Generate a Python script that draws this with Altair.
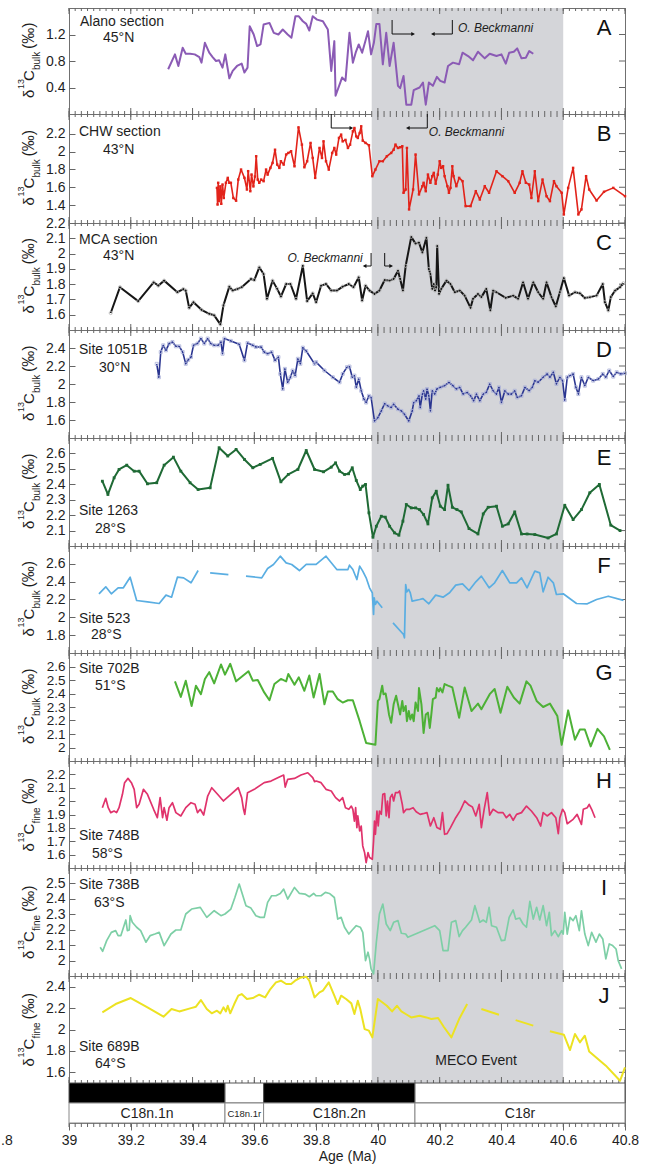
import altair as alt
import pandas as pd

FONT = "Liberation Sans"
SHADE = "#d4d5d9"
FRAME = "#707070"
TICK = "#666666"
TXT = "#1e1e1e"
W = 556
X_DOMAIN = [39.0, 40.8]
MECO_START, MECO_END = 39.98, 40.6

# ---------------- data: (age Ma, d13C permil) ----------------
ALANO = [(39.321,0.675),(39.343,0.90),(39.354,0.725),(39.368,1.00),(39.378,0.91),(39.392,0.91),(39.407,0.90),(39.422,0.86),(39.429,0.775),(39.44,1.075),(39.454,0.925),(39.465,0.86),(39.476,0.80),(39.486,0.81),(39.497,0.70),(39.506,0.90),(39.519,0.54),(39.53,0.65),(39.544,0.725),(39.559,0.76),(39.568,0.625),(39.578,0.70),(39.585,1.325),(39.598,1.20),(39.609,1.025),(39.62,1.05),(39.63,1.35),(39.649,1.375),(39.663,1.225),(39.678,1.20),(39.692,1.275),(39.708,1.20),(39.72,1.15),(39.733,1.475),(39.744,1.475),(39.757,1.40),(39.768,1.36),(39.778,1.26),(39.789,1.475),(39.803,1.425),(39.822,1.40),(39.838,1.275),(39.849,0.65),(39.859,1.10),(39.863,0.275),(39.884,0.55),(39.895,0.50),(39.908,1.225),(39.919,0.775),(39.928,0.925),(39.938,1.05),(39.949,0.925),(39.96,1.11),(39.968,1.25),(39.978,0.90),(39.987,1.075),(39.995,1.36),(40.005,1.36),(40.016,0.75),(40.027,1.225),(40.038,0.725),(40.051,1.075),(40.065,0.425),(40.072,0.39),(40.083,0.575),(40.092,0.14),(40.108,0.14),(40.116,0.36),(40.135,0.40),(40.146,0.475),(40.155,0.14),(40.165,0.475),(40.178,0.425),(40.191,0.56),(40.202,0.50),(40.216,0.475),(40.227,0.725),(40.243,0.775),(40.263,0.75),(40.274,0.925),(40.292,0.875),(40.308,0.81),(40.324,0.94),(40.346,0.84),(40.362,0.91),(40.384,0.875),(40.40,0.90),(40.414,0.76),(40.425,0.925),(40.44,0.94),(40.451,0.99),(40.465,0.84),(40.479,0.85),(40.49,0.95),(40.503,0.91)]

CHW = [(39.479,1.593),(39.481,1.407),(39.483,1.65),(39.486,1.445),(39.49,1.61),(39.493,1.415),(39.497,1.63),(39.501,1.48),(39.508,1.65),(39.514,1.705),(39.519,1.65),(39.524,1.65),(39.532,1.48),(39.541,1.45),(39.548,1.686),(39.557,1.798),(39.568,1.705),(39.576,1.575),(39.58,1.78),(39.587,1.556),(39.591,1.742),(39.597,1.61),(39.602,1.72),(39.606,1.947),(39.611,1.686),(39.616,1.65),(39.622,1.686),(39.63,1.668),(39.638,1.798),(39.643,1.742),(39.652,1.817),(39.659,1.873),(39.667,2.02),(39.674,1.854),(39.681,1.817),(39.686,1.891),(39.695,1.854),(39.703,1.966),(39.71,1.984),(39.719,2.003),(39.73,1.835),(39.743,2.27),(39.754,2.077),(39.762,1.824),(39.771,1.891),(39.782,2.096),(39.789,1.928),(39.797,1.705),(39.811,2.04),(39.819,1.928),(39.824,2.114),(39.832,1.891),(39.841,1.798),(39.852,1.984),(39.859,2.04),(39.865,1.966),(39.874,2.152),(39.881,2.189),(39.886,2.114),(39.895,2.13),(39.903,2.04),(39.91,2.077),(39.919,2.226),(39.924,2.263),(39.93,2.17),(39.935,2.152),(39.941,2.207),(39.946,2.282),(39.951,2.122),(39.96,2.096),(39.971,2.07),(39.982,1.724),(39.992,1.798),(40.005,1.891),(40.016,1.891),(40.029,1.947),(40.043,1.984),(40.051,2.02),(40.057,2.077),(40.065,2.04),(40.072,2.048),(40.079,2.059),(40.083,1.538),(40.09,1.575),(40.094,2.04),(40.101,1.352),(40.114,1.575),(40.122,1.966),(40.133,1.52),(40.144,1.612),(40.148,1.65),(40.155,1.556),(40.162,1.742),(40.17,1.65),(40.176,1.724),(40.181,1.761),(40.187,1.64),(40.194,1.742),(40.2,1.891),(40.205,1.817),(40.211,1.835),(40.216,1.724),(40.225,1.612),(40.23,1.538),(40.235,1.593),(40.241,1.835),(40.245,1.724),(40.254,1.612),(40.263,1.705),(40.274,1.668),(40.284,1.389),(40.3,1.389),(40.317,1.556),(40.33,1.463),(40.346,1.612),(40.36,1.538),(40.384,1.779),(40.403,1.724),(40.422,1.668),(40.443,1.538),(40.459,1.65),(40.468,1.779),(40.479,1.65),(40.49,1.63),(40.497,1.48),(40.508,1.779),(40.519,1.445),(40.533,1.686),(40.546,1.5),(40.557,1.445),(40.57,1.668),(40.578,1.612),(40.595,1.538),(40.602,1.296),(40.616,1.593),(40.632,1.817),(40.649,1.296),(40.659,1.352),(40.674,1.724),(40.684,1.575),(40.708,1.452),(40.732,1.549),(40.762,1.593),(40.8,1.5)]

MCA = [(39.135,1.611),(39.165,1.78),(39.224,1.689),(39.274,1.812),(39.289,1.79),(39.308,1.823),(39.351,1.747),(39.37,1.768),(39.378,1.758),(39.389,1.645),(39.403,1.682),(39.429,1.632),(39.454,1.606),(39.47,1.596),(39.49,1.537),(39.5,1.661),(39.519,1.784),(39.53,1.758),(39.546,1.769),(39.559,1.78),(39.589,1.834),(39.6,1.827),(39.616,1.91),(39.63,1.866),(39.641,1.704),(39.659,1.823),(39.674,1.769),(39.686,1.719),(39.703,1.801),(39.717,1.801),(39.735,1.704),(39.757,1.92),(39.771,1.689),(39.789,1.74),(39.8,1.682),(39.816,1.79),(39.832,1.801),(39.849,1.758),(39.867,1.758),(39.886,1.784),(39.906,1.801),(39.921,1.78),(39.938,1.845),(39.949,1.693),(39.96,1.79),(39.973,1.758),(39.989,1.736),(40.005,1.758),(40.022,1.827),(40.038,1.823),(40.051,1.834),(40.065,1.888),(40.072,1.834),(40.081,1.758),(40.09,1.92),(40.108,2.109),(40.122,2.065),(40.133,2.072),(40.144,2.007),(40.157,2.104),(40.165,1.899),(40.17,1.866),(40.176,1.769),(40.181,1.801),(40.185,1.758),(40.189,1.78),(40.192,2.05),(40.198,1.736),(40.205,1.769),(40.222,1.823),(40.235,1.801),(40.249,1.747),(40.265,1.758),(40.281,1.725),(40.3,1.645),(40.308,1.704),(40.324,1.736),(40.335,1.715),(40.351,1.769),(40.364,1.628),(40.373,1.758),(40.384,1.747),(40.414,1.71),(40.438,1.725),(40.454,1.704),(40.47,1.812),(40.486,1.704),(40.503,1.812),(40.519,1.747),(40.535,1.704),(40.546,1.812),(40.562,1.715),(40.576,1.654),(40.589,1.747),(40.602,1.84),(40.619,1.725),(40.638,1.747),(40.654,1.74),(40.67,1.71),(40.686,1.715),(40.708,1.725),(40.728,1.801),(40.735,1.682),(40.746,1.628),(40.754,1.715),(40.768,1.758),(40.784,1.78),(40.795,1.806)]

S1051B = [(39.284,2.224),(39.291,2.075),(39.297,2.355),(39.305,2.43),(39.314,2.374),(39.324,2.449),(39.335,2.467),(39.346,2.419),(39.357,2.419),(39.368,2.355),(39.378,2.224),(39.386,2.269),(39.395,2.299),(39.403,2.43),(39.416,2.449),(39.427,2.505),(39.438,2.449),(39.449,2.505),(39.459,2.449),(39.47,2.43),(39.483,2.43),(39.492,2.467),(39.497,2.336),(39.503,2.505),(39.524,2.479),(39.551,2.441),(39.568,2.262),(39.578,2.456),(39.595,2.43),(39.605,2.411),(39.622,2.411),(39.632,2.355),(39.643,2.336),(39.656,2.355),(39.667,2.262),(39.678,2.299),(39.684,2.112),(39.692,1.944),(39.699,2.168),(39.708,2.019),(39.717,2.075),(39.724,2.15),(39.732,2.093),(39.741,2.28),(39.749,2.224),(39.757,2.404),(39.768,2.366),(39.795,2.224),(39.8,2.243),(39.827,2.15),(39.854,2.075),(39.876,2.019),(39.886,2.112),(39.9,2.187),(39.908,2.194),(39.917,2.075),(39.924,2.093),(39.93,1.963),(39.938,2.056),(39.946,1.925),(39.955,1.832),(39.962,1.794),(39.971,1.869),(39.978,1.85),(39.989,1.589),(40.0,1.626),(40.011,1.701),(40.022,1.783),(40.032,1.757),(40.043,1.738),(40.051,1.776),(40.065,1.72),(40.076,1.701),(40.086,1.664),(40.1,1.589),(40.111,1.701),(40.116,1.794),(40.124,1.813),(40.133,1.869),(40.137,1.738),(40.144,1.888),(40.148,1.925),(40.155,1.832),(40.159,1.944),(40.165,1.869),(40.17,1.701),(40.176,1.925),(40.184,1.888),(40.191,1.944),(40.202,1.963),(40.216,1.981),(40.23,2.019),(40.243,1.981),(40.254,1.944),(40.265,1.963),(40.276,1.888),(40.289,1.907),(40.3,1.869),(40.31,1.813),(40.319,1.888),(40.33,1.813),(40.341,1.888),(40.351,1.907),(40.362,2.0),(40.373,1.925),(40.384,1.888),(40.392,1.963),(40.4,1.794),(40.411,1.925),(40.422,1.888),(40.432,1.888),(40.443,1.925),(40.451,1.85),(40.465,1.869),(40.476,1.963),(40.49,1.925),(40.5,1.963),(40.508,2.037),(40.519,2.019),(40.535,2.075),(40.548,2.112),(40.557,2.075),(40.568,2.131),(40.578,2.0),(40.589,2.075),(40.598,2.037),(40.605,1.821),(40.613,2.075),(40.622,2.093),(40.632,2.112),(40.641,1.963),(40.649,1.888),(40.659,2.075),(40.67,1.981),(40.681,2.075),(40.697,2.037),(40.714,2.056),(40.728,2.112),(40.738,2.075),(40.749,2.15),(40.762,2.082),(40.773,2.131),(40.786,2.112),(40.8,2.119)]

S1263 = [(39.108,2.42),(39.126,2.334),(39.146,2.442),(39.162,2.496),(39.187,2.524),(39.211,2.485),(39.227,2.485),(39.254,2.403),(39.284,2.41),(39.308,2.524),(39.338,2.576),(39.362,2.485),(39.392,2.41),(39.418,2.366),(39.457,2.377),(39.486,2.637),(39.514,2.583),(39.541,2.626),(39.568,2.561),(39.595,2.507),(39.619,2.529),(39.659,2.568),(39.686,2.416),(39.71,2.464),(39.741,2.496),(39.768,2.619),(39.795,2.496),(39.824,2.481),(39.849,2.511),(39.863,2.539),(39.876,2.485),(39.892,2.464),(39.905,2.468),(39.917,2.507),(39.93,2.425),(39.943,2.366),(39.951,2.388),(39.96,2.399),(39.971,2.215),(39.984,2.057),(39.995,2.128),(40.011,2.193),(40.024,2.187),(40.038,2.128),(40.054,2.085),(40.068,2.07),(40.081,2.161),(40.092,2.269),(40.108,2.247),(40.122,2.247),(40.135,2.236),(40.148,2.204),(40.162,2.143),(40.176,2.312),(40.189,2.355),(40.202,2.258),(40.216,2.236),(40.227,2.394),(40.241,2.251),(40.256,2.236),(40.27,2.221),(40.295,2.113),(40.324,2.078),(40.341,2.208),(40.357,2.251),(40.384,2.258),(40.403,2.128),(40.422,2.143),(40.443,2.221),(40.465,2.078),(40.483,2.078),(40.508,2.074),(40.551,2.052),(40.578,2.078),(40.605,2.264),(40.632,2.171),(40.659,2.236),(40.686,2.345),(40.717,2.399),(40.754,2.135),(40.784,2.1)]

S523_1 = [(39.097,2.264),(39.119,2.342),(39.137,2.264),(39.159,2.331),(39.176,2.331),(39.198,2.45),(39.219,2.189),(39.254,2.174),(39.292,2.155),(39.314,2.249),(39.332,2.226),(39.351,2.45),(39.371,2.443),(39.395,2.387),(39.418,2.525)]
S523_2 = [(39.457,2.499),(39.516,2.48)]
S523_3 = [(39.573,2.462),(39.624,2.443),(39.643,2.548),(39.662,2.593),(39.684,2.686),(39.703,2.611),(39.721,2.593),(39.746,2.525),(39.768,2.593),(39.8,2.593),(39.832,2.686),(39.867,2.536),(39.903,2.536),(39.908,2.585),(39.919,2.536),(39.932,2.424),(39.941,2.574),(39.951,2.518),(39.962,2.443),(39.973,2.331),(39.982,2.275),(39.986,2.032),(39.988,2.219),(39.992,2.144),(39.997,2.181),(40.014,2.107)]
S523_4 = [(40.049,1.938),(40.083,1.807),(40.086,1.77),(40.09,2.368),(40.094,2.286),(40.1,2.312),(40.105,2.275),(40.111,2.181),(40.135,2.2),(40.146,2.21),(40.165,2.152),(40.187,2.249),(40.211,2.226),(40.232,2.275),(40.252,2.361),(40.274,2.376),(40.295,2.301),(40.317,2.398),(40.335,2.462),(40.36,2.331),(40.378,2.387),(40.403,2.525),(40.427,2.387),(40.449,2.387),(40.465,2.443),(40.483,2.331),(40.508,2.518),(40.524,2.499),(40.535,2.286),(40.551,2.45),(40.568,2.387),(40.578,2.256),(40.6,2.264),(40.643,2.155),(40.678,2.152),(40.708,2.2),(40.746,2.237),(40.795,2.19)]

S702B = [(39.343,2.49),(39.362,2.375),(39.378,2.495),(39.397,2.308),(39.411,2.458),(39.427,2.395),(39.44,2.508),(39.454,2.558),(39.47,2.475),(39.492,2.615),(39.505,2.54),(39.522,2.62),(39.541,2.49),(39.581,2.565),(39.595,2.495),(39.611,2.5),(39.632,2.408),(39.649,2.35),(39.665,2.47),(39.686,2.508),(39.703,2.49),(39.71,2.545),(39.73,2.465),(39.744,2.52),(39.762,2.42),(39.778,2.533),(39.792,2.37),(39.811,2.545),(39.827,2.32),(39.838,2.415),(39.854,2.415),(39.87,2.358),(39.886,2.333),(39.903,2.35),(39.919,2.35),(39.941,2.195),(39.962,2.033),(39.992,2.02),(40.0,2.345),(40.005,2.358),(40.014,2.458),(40.018,2.395),(40.025,2.4),(40.029,2.35),(40.036,2.245),(40.043,2.183),(40.051,2.32),(40.059,2.383),(40.065,2.32),(40.072,2.245),(40.079,2.345),(40.083,2.27),(40.09,2.308),(40.094,2.195),(40.1,2.27),(40.105,2.208),(40.111,2.245),(40.116,2.195),(40.122,2.333),(40.13,2.27),(40.133,2.44),(40.141,2.32),(40.148,2.108),(40.155,2.245),(40.162,2.258),(40.168,2.145),(40.173,2.245),(40.178,2.358),(40.187,2.37),(40.191,2.44),(40.198,2.415),(40.202,2.44),(40.209,2.408),(40.216,2.47),(40.227,2.458),(40.241,2.445),(40.263,2.22),(40.281,2.445),(40.303,2.27),(40.324,2.325),(40.335,2.283),(40.362,2.395),(40.378,2.433),(40.397,2.258),(40.419,2.45),(40.44,2.37),(40.459,2.325),(40.481,2.49),(40.494,2.458),(40.514,2.345),(40.535,2.3),(40.557,2.325),(40.581,2.233),(40.595,2.02),(40.616,2.275),(40.638,2.058),(40.654,2.133),(40.67,2.133),(40.689,2.008),(40.711,2.138),(40.732,2.083),(40.751,1.983)]

S748B = [(39.108,1.951),(39.119,2.021),(39.127,1.951),(39.135,1.914),(39.146,1.926),(39.154,1.914),(39.162,1.951),(39.173,2.051),(39.18,2.138),(39.191,2.17),(39.202,2.138),(39.211,2.088),(39.219,1.951),(39.227,1.976),(39.241,2.088),(39.254,2.051),(39.274,1.939),(39.286,1.876),(39.295,2.026),(39.303,1.876),(39.308,1.951),(39.317,1.857),(39.324,1.951),(39.335,1.988),(39.346,1.914),(39.362,1.889),(39.378,1.951),(39.395,1.988),(39.408,1.976),(39.416,1.914),(39.425,1.939),(39.436,1.896),(39.449,2.038),(39.462,2.1),(39.481,2.051),(39.5,2.001),(39.524,2.051),(39.548,2.1),(39.559,2.026),(39.565,1.939),(39.569,1.901),(39.578,2.063),(39.6,2.088),(39.632,2.138),(39.654,2.15),(39.681,2.18),(39.695,2.195),(39.7,2.105),(39.708,2.163),(39.73,2.17),(39.751,2.195),(39.773,2.212),(39.789,2.175),(39.795,2.145),(39.8,2.15),(39.816,2.138),(39.832,2.088),(39.849,2.076),(39.863,2.026),(39.876,2.001),(39.886,2.026),(39.895,1.951),(39.906,1.939),(39.914,1.963),(39.919,1.939),(39.924,1.851),(39.928,1.951),(39.932,1.802),(39.935,1.889),(39.941,1.777),(39.946,1.814),(39.951,1.665),(39.957,1.615),(39.962,1.54),(39.968,1.615),(39.973,1.578),(39.982,1.565),(39.986,1.702),(39.989,1.851),(39.992,1.752),(39.997,1.926),(40.001,1.814),(40.005,1.926),(40.011,1.901),(40.016,2.051),(40.022,2.056),(40.027,1.889),(40.031,2.001),(40.036,1.876),(40.04,2.026),(40.046,2.051),(40.051,2.001),(40.057,2.063),(40.065,2.063),(40.07,2.076),(40.079,1.976),(40.083,1.914),(40.092,1.939),(40.103,1.939),(40.114,1.951),(40.124,1.921),(40.137,1.901),(40.146,1.906),(40.159,1.914),(40.17,1.814),(40.181,1.876),(40.191,1.802),(40.202,1.789),(40.209,1.914),(40.216,1.752),(40.224,1.757),(40.235,1.802),(40.252,1.876),(40.267,1.931),(40.281,2.001),(40.295,1.971),(40.306,1.956),(40.317,1.889),(40.328,1.976),(40.335,1.802),(40.344,1.939),(40.354,2.063),(40.362,1.896),(40.373,1.939),(40.389,1.914),(40.405,1.914),(40.416,1.876),(40.427,1.901),(40.438,1.857),(40.449,1.901),(40.465,1.914),(40.481,1.963),(40.497,1.926),(40.514,1.876),(40.527,1.814),(40.535,1.914),(40.548,1.889),(40.562,1.914),(40.576,1.876),(40.584,1.757),(40.589,1.876),(40.598,1.939),(40.605,1.914),(40.613,1.831),(40.632,1.864),(40.645,1.901),(40.659,1.826),(40.665,1.939),(40.678,1.951),(40.684,1.976),(40.692,1.939),(40.703,1.876)]

S738B = [(39.101,2.086),(39.109,2.06),(39.122,2.129),(39.137,2.183),(39.151,2.194),(39.159,2.162),(39.168,2.162),(39.184,2.263),(39.189,2.194),(39.195,2.198),(39.198,2.291),(39.205,2.248),(39.219,2.216),(39.232,2.194),(39.249,2.119),(39.263,2.162),(39.278,2.172),(39.292,2.183),(39.308,2.097),(39.33,2.172),(39.346,2.198),(39.362,2.198),(39.378,2.302),(39.397,2.334),(39.425,2.345),(39.446,2.28),(39.47,2.323),(39.492,2.291),(39.505,2.302),(39.524,2.334),(39.537,2.409),(39.551,2.496),(39.573,2.356),(39.589,2.34),(39.605,2.291),(39.619,2.28),(39.632,2.28),(39.643,2.377),(39.656,2.42),(39.67,2.42),(39.684,2.435),(39.695,2.463),(39.708,2.399),(39.73,2.474),(39.746,2.435),(39.764,2.431),(39.778,2.414),(39.792,2.435),(39.8,2.42),(39.816,2.42),(39.83,2.442),(39.843,2.435),(39.859,2.409),(39.87,2.269),(39.881,2.28),(39.892,2.216),(39.906,2.172),(39.917,2.198),(39.93,2.226),(39.943,2.216),(39.951,2.183),(39.96,2.0),(39.968,2.054),(39.973,2.011),(39.978,1.946),(39.986,1.914),(39.995,2.119),(40.005,2.302),(40.016,2.366),(40.027,2.237),(40.04,2.194),(40.051,2.248),(40.065,2.259),(40.076,2.177),(40.09,2.172),(40.097,2.151),(40.135,2.183),(40.184,2.226),(40.2,2.194),(40.211,2.065),(40.227,2.065),(40.238,2.248),(40.252,2.259),(40.263,2.155),(40.274,2.194),(40.284,2.216),(40.297,2.248),(40.303,2.263),(40.314,2.356),(40.33,2.248),(40.341,2.263),(40.351,2.248),(40.36,2.345),(40.368,2.226),(40.384,2.216),(40.4,2.129),(40.411,2.133),(40.425,2.28),(40.438,2.328),(40.446,2.269),(40.459,2.276),(40.47,2.237),(40.481,2.216),(40.492,2.384),(40.503,2.269),(40.514,2.345),(40.524,2.263),(40.535,2.356),(40.546,2.226),(40.555,2.313),(40.562,2.162),(40.573,2.194),(40.584,2.155),(40.595,2.194),(40.6,2.172),(40.605,2.313),(40.613,2.172),(40.622,2.28),(40.632,2.259),(40.641,2.291),(40.652,2.194),(40.659,2.323),(40.67,2.172),(40.681,2.097),(40.692,2.183),(40.706,2.119),(40.717,2.172),(40.728,2.14),(40.738,2.011),(40.749,2.108),(40.76,2.097),(40.771,2.075),(40.778,2.0),(40.789,1.946)]

S689B_1 = [(39.108,2.16),(39.151,2.238),(39.2,2.294),(39.254,2.207),(39.306,2.12),(39.332,2.191),(39.357,2.169),(39.395,2.2),(39.411,2.213),(39.427,2.275),(39.446,2.191),(39.462,2.151),(39.479,2.176),(39.49,2.151),(39.5,2.207),(39.508,2.169),(39.514,2.222),(39.522,2.151),(39.535,2.238),(39.548,2.316),(39.559,2.331),(39.576,2.285),(39.595,2.294),(39.616,2.325),(39.635,2.3),(39.652,2.378),(39.67,2.44),(39.686,2.456),(39.703,2.425),(39.719,2.425),(39.732,2.456),(39.751,2.487),(39.768,2.493),(39.778,2.456),(39.795,2.3),(39.811,2.347),(39.822,2.363),(39.841,2.44),(39.859,2.316),(39.87,2.238),(39.881,2.316),(39.897,2.285),(39.914,2.244),(39.924,2.145),(39.935,2.269),(39.943,2.191),(39.957,2.004),(39.971,1.989),(39.982,1.926),(40.0,2.285),(40.014,2.254),(40.029,2.222),(40.046,2.169),(40.062,2.222),(40.076,2.169),(40.094,2.138),(40.108,2.113),(40.135,2.129),(40.157,2.113),(40.173,2.098),(40.195,2.107),(40.213,2.026),(40.238,1.926),(40.263,2.098),(40.289,2.238)]
S689B_2 = [(40.335,2.191),(40.392,2.138)]
S689B_3 = [(40.446,2.088),(40.503,2.036)]
S689B_4 = [(40.557,1.983),(40.602,1.951),(40.622,1.808),(40.638,1.958),(40.654,1.88),(40.67,1.942),(40.684,1.795),(40.738,1.662),(40.784,1.521),(40.8,1.646)]

# magnetostratigraphy
POL_START = [39.0, 39.505, 39.63, 40.12]
POL_END = [39.505, 39.63, 40.12, 40.8]
POL_TYPE = ["normal", "reversed", "normal", "reversed"]
CHRONS = ["C18n.1n", "C18n.1r", "C18n.2n", "C18r"]

AGE_TICKS = [39.0, 39.2, 39.4, 39.6, 39.8, 40.0, 40.2, 40.4, 40.6, 40.8]
MINOR_TICKS = [round(39.0 + 0.02 * k, 2) for k in range(91)]

PANELS = [
    dict(letter="A", data=[ALANO], color="#8b5bb5", sw=2.0, h=106, dom=[0.0, 1.6],
         ticks=[0.4, 0.8, 1.2], sub="bulk", lab=("Alano section", "45°N", 18, 34, 11, 34), marker=None),
    dict(letter="B", data=[CHW], color="#e2231a", sw=1.6, h=109, dom=[1.2, 2.42],
         ticks=[1.4, 1.6, 1.8, 2.0, 2.2], sub="bulk", lab=("CHW section", "43°N", 22, 40, 10, 34),
         marker=dict(shape="square", size=6, filled=True, color="#e2231a")),
    dict(letter="C", data=[MCA], color="#161616", sw=2.0, h=107, dom=[1.5, 2.2],
         ticks=[1.6, 1.7, 1.8, 1.9, 2.0, 2.1, 2.2], sub="bulk", lab=("MCA section", "43°N", 21, 37, 10, 34),
         marker=dict(shape="circle", size=10, filled=False, color="#b4b4b4")),
    dict(letter="D", data=[S1051B], color="#2a3590", sw=1.6, h=108, dom=[1.4, 2.6],
         ticks=[1.6, 1.8, 2.0, 2.2, 2.4], sub="bulk", lab=("Site 1051B", "30°N", 24, 42, 10, 30),
         marker=dict(shape="square", size=9, filled=False, color="#aab0d8")),
    dict(letter="E", data=[S1263], color="#1f6a35", sw=2.0, h=108, dom=[2.0, 2.7],
         ticks=[2.1, 2.2, 2.3, 2.4, 2.5, 2.6], sub="bulk", lab=("Site 1263", "28°S", 77, 95, 10, 26),
         marker=dict(shape="square", size=8, filled=True, color="#1f6a35")),
    dict(letter="F", data=[S523_1, S523_2, S523_3, S523_4], color="#5aaee2", sw=1.7, h=107, dom=[1.6, 2.8],
         ticks=[1.8, 2.0, 2.2, 2.4, 2.6], sub="bulk", lab=("Site 523", "28°S", 77, 93, 10, 22), marker=None),
    dict(letter="G", data=[S702B], color="#4db136", sw=2.0, h=108, dom=[1.9, 2.7],
         ticks=[2.0, 2.1, 2.2, 2.3, 2.4, 2.5, 2.6], sub="bulk", lab=("Site 702B", "51°S", 20, 37, 10, 26),
         marker=None, lfs=13.5),
    dict(letter="H", data=[S748B], color="#e0336c", sw=1.7, h=107, dom=[1.5, 2.3],
         ticks=[1.6, 1.7, 1.8, 1.9, 2.0, 2.1, 2.2], sub="fine", lab=("Site 748B", "58°S", 79, 97, 10, 23),
         marker=None, lfs=13.5),
    dict(letter="I", data=[S738B], color="#7dcfa6", sw=1.7, h=108, dom=[1.9, 2.6],
         ticks=[2.0, 2.1, 2.2, 2.3, 2.4, 2.5], sub="fine", lab=("Site 738B", "63°S", 21, 39, 10, 25), marker=None),
    dict(letter="J", data=[S689B_1, S689B_2, S689B_3, S689B_4], color="#ece222", sw=2.0, h=107, dom=[1.5, 2.5],
         ticks=[1.6, 1.8, 2.0, 2.2, 2.4], sub="fine", lab=("Site 689B", "64°S", 75, 92, 10, 26), marker=None),
]

# O. Beckmanni brackets: (vertical-line age, arrow-tip age, y top px, y bottom px)
BECK = {
    "A": dict(brackets=[(40.046, 40.114, 12, 26), (40.241, 40.178, 12, 26)], text_x=40.259, text_y=24, align="left"),
    "B": dict(brackets=[(39.849, 39.914, 0, 14), (40.16, 40.097, 0, 14)], text_x=40.165, text_y=22, align="left"),
    "C": dict(brackets=[(39.978, 39.957, 30, 43), (40.022, 40.043, 30, 43)], text_x=39.951, text_y=39, align="right"),
}
MECO_LABEL_X = 40.318

xsc = alt.Scale(domain=X_DOMAIN, nice=False, zero=False)


def xenc(f, axis=None):
    return alt.X(f, type="quantitative", scale=xsc, axis=axis)


def one_row():
    return pd.DataFrame({"k": [0]})


def text_at(txt, x, y, size=14, align="left", angle=None, italic=False, color=TXT, baseline="alphabetic"):
    kw = dict(text=txt, fontSize=size, align=align, baseline=baseline, color=color, font=FONT)
    if angle is not None:
        kw["angle"] = angle
    if italic:
        kw["fontStyle"] = "italic"
    return alt.Chart(one_row()).mark_text(**kw).encode(x=alt.value(x), y=alt.value(y))


def frame_of(segments):
    rows = []
    for si, seg in enumerate(segments):
        for i, (a, v) in enumerate(seg):
            rows.append({"age": a, "v": v, "seg": si, "i": i})
    return pd.DataFrame(rows)


def y_title(h, sub):
    c = h / 2.0
    sublen = 18 if sub == "bulk" else 16
    return [
        text_at("δ", -35, c + 37, size=15, angle=270),
        text_at("13", -45, c + 28, size=9, angle=270),
        text_at("C", -35, c + 20, size=15, angle=270),
        text_at(sub, -29.5, c + 9, size=10, angle=270),
        text_at("(‰)", -35, c + 9 - sublen - 3, size=16, angle=270),
    ]


def make_panel(p):
    h = p["h"]
    ysc = alt.Scale(domain=p["dom"], nice=False, zero=False)
    yax = alt.Axis(values=p["ticks"], format=".1~f", title=None, domain=False, grid=False,
                   orient="left", offset=-6, tickSize=6, tickColor=TICK, tickWidth=1,
                   labelFontSize=p.get("lfs", 14), labelColor=TXT, labelPadding=4, labelOverlap=False,
                   labelFlush=False, labelFont=FONT)

    def yenc(f):
        return alt.Y(f, type="quantitative", scale=ysc, axis=yax)

    layers = []
    layers.append(alt.Chart(pd.DataFrame({"a": [MECO_START], "b": [MECO_END]}))
                  .mark_rect(color=SHADE).encode(x=xenc("a"), x2=alt.X2("b")))
    minor = pd.DataFrame({"t": MINOR_TICKS})
    major = pd.DataFrame({"t": AGE_TICKS})
    for df, L in ((minor, 3), (major, 6)):
        layers.append(alt.Chart(df).mark_rule(color=TICK, strokeWidth=1)
                      .encode(x=xenc("t"), y=alt.value(0), y2=alt.value(L)))
        layers.append(alt.Chart(df).mark_rule(color=TICK, strokeWidth=1)
                      .encode(x=xenc("t"), y=alt.value(h - L), y2=alt.value(h)))
    layers.append(alt.Chart(pd.DataFrame({"v": p["ticks"]})).mark_rule(color=TICK, strokeWidth=1)
                  .encode(y=yenc("v"), x=alt.value(W - 6), x2=alt.value(W)))

    df = frame_of(p["data"])
    layers.append(alt.Chart(df).mark_line(color=p["color"], strokeWidth=p["sw"], strokeJoin="round")
                  .encode(x=xenc("age"), y=yenc("v"), detail="seg:N", order="i:Q"))
    m = p.get("marker")
    if m:
        kw = dict(shape=m["shape"], size=m["size"], filled=m["filled"], opacity=1, color=m["color"])
        if not m["filled"]:
            kw["strokeWidth"] = 0.8
        layers.append(alt.Chart(df).mark_point(**kw).encode(x=xenc("age"), y=yenc("v")))

    l1, l2, y1, y2, x1, x2 = p["lab"]
    layers.append(text_at(l1, x1, y1))
    layers.append(text_at(l2, x2, y2))
    layers.append(text_at(p["letter"], W - 21, 27, size=22, align="center", color="#111111"))
    layers += y_title(h, p["sub"])

    if p["letter"] in BECK:
        b = BECK[p["letter"]]
        for (xv, xa, yt, yb) in b["brackets"]:
            d = pd.DataFrame({"xv": [xv], "xa": [xa]})
            layers.append(alt.Chart(d).mark_rule(color="#111111", strokeWidth=1)
                          .encode(x=xenc("xv"), y=alt.value(yt), y2=alt.value(yb)))
            layers.append(alt.Chart(d).mark_rule(color="#111111", strokeWidth=1)
                          .encode(x=xenc("xv"), x2=alt.X2("xa"), y=alt.value(yb)))
            shape = "triangle-right" if xa > xv else "triangle-left"
            layers.append(alt.Chart(d).mark_point(shape=shape, size=18, filled=True, color="#111111", opacity=1)
                          .encode(x=xenc("xa"), y=alt.value(yb)))
        layers.append(alt.Chart(pd.DataFrame({"x": [b["text_x"]]}))
                      .mark_text(text="O. Beckmanni", fontSize=12, fontStyle="italic", align=b["align"],
                                 baseline="alphabetic", color=TXT, font=FONT)
                      .encode(x=xenc("x"), y=alt.value(b["text_y"])))
    if p["letter"] == "J":
        layers.append(alt.Chart(pd.DataFrame({"x": [MECO_LABEL_X]}))
                      .mark_text(text="MECO Event", fontSize=14, align="center", baseline="alphabetic",
                                 color=TXT, font=FONT)
                      .encode(x=xenc("x"), y=alt.value(89)))
    return alt.layer(*layers).properties(width=W, height=h)


panels = [make_panel(p) for p in PANELS]

# ---------------- magnetostratigraphy bar + age axis ----------------
MH = 40
mag = pd.DataFrame({"s": POL_START, "e": POL_END, "pol": POL_TYPE, "name": CHRONS})
xax = alt.Axis(values=AGE_TICKS, format=".1~f", title="Age (Ma)", domain=False, grid=False,
               tickSize=7, tickColor=TICK, labelFontSize=14, labelColor=TXT, labelPadding=3,
               titleFontSize=14, titleFontWeight="normal", titleColor=TXT, titlePadding=2,
               labelFlush=False, labelOverlap=False, labelFont=FONT, titleFont=FONT)


def mx(f):
    return alt.X(f, type="quantitative", scale=xsc, axis=xax, title="Age (Ma)")


blocks = alt.Chart(mag).mark_rect(stroke="#555555", strokeWidth=1).encode(
    x=mx("s"), x2=alt.X2("e"), y=alt.value(0), y2=alt.value(MH / 2),
    fill=alt.Fill("pol:N", scale=alt.Scale(domain=["normal", "reversed"], range=["#000000", "#ffffff"]), legend=None))
cells = alt.Chart(mag).mark_rect(fill="white", stroke="#888888", strokeWidth=1).encode(
    x=mx("s"), x2=alt.X2("e"), y=alt.value(MH / 2), y2=alt.value(MH))
big_lab = alt.Chart(mag).transform_filter("datum.name != 'C18n.1r'").transform_calculate(
    mid="(datum.s + datum.e) / 2").mark_text(fontSize=14, align="center", baseline="middle", color=TXT, font=FONT).encode(
    x=mx("mid"), y=alt.value(MH * 0.75 + 1), text="name:N")
small_lab = alt.Chart(mag).transform_filter("datum.name == 'C18n.1r'").transform_calculate(
    mid="(datum.s + datum.e) / 2").mark_text(fontSize=9.5, align="center", baseline="middle", color=TXT, font=FONT).encode(
    x=mx("mid"), y=alt.value(MH * 0.75 + 1), text="name:N")
mag_minor = alt.Chart(pd.DataFrame({"t": MINOR_TICKS})).mark_rule(color=TICK, strokeWidth=1).encode(
    x=mx("t"), y=alt.value(MH), y2=alt.value(MH + 4))
stray = text_at(".8", -68, 58, size=14, baseline="middle")
mag_chart = alt.layer(blocks, cells, big_lab, small_lab, mag_minor, stray).properties(width=W, height=MH)

chart = (
    alt.vconcat(*panels, mag_chart, spacing=0, bounds="flush")
    .properties(padding={"left": 0, "top": 7, "right": 5, "bottom": 5})
    .configure(font=FONT)
    .configure_view(stroke=FRAME, strokeWidth=1)
)

chart.save("out.html", embed_options={"renderer": "svg", "actions": False})
